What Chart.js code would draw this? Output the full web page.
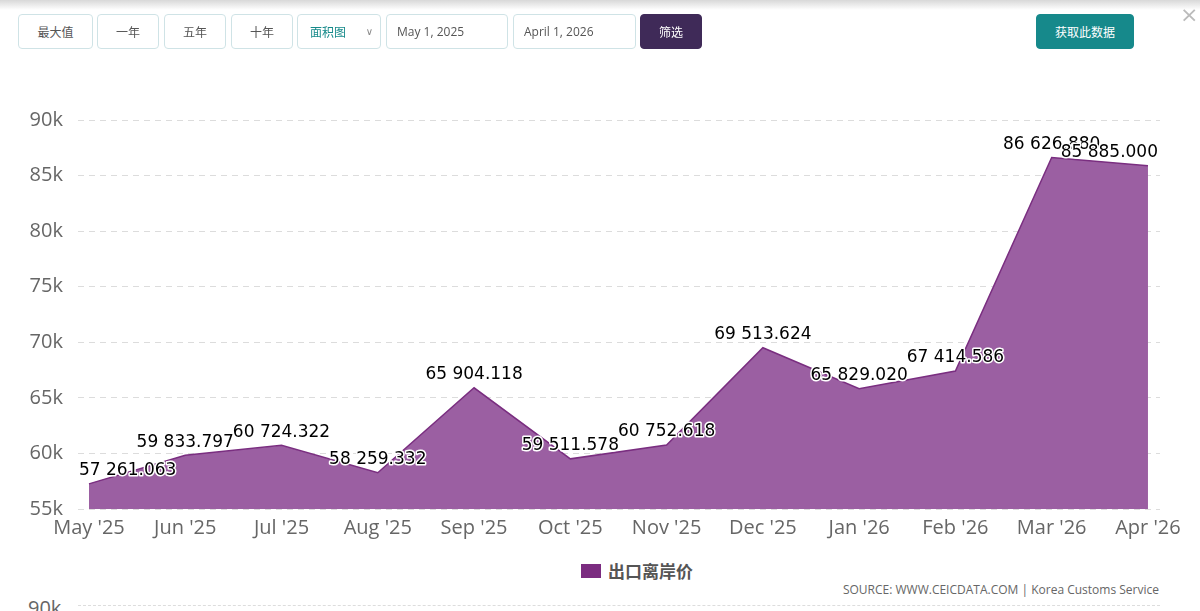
<!DOCTYPE html>
<html><head><meta charset="utf-8">
<script src="https://cdn.jsdelivr.net/npm/chart.js@4/dist/chart.umd.min.js"></script>
<style>
html,body{margin:0;padding:0;background:#fff;width:1200px;height:611px;overflow:hidden;font-family:"Noto Sans CJK SC","Open Sans",sans-serif;}
#top{position:absolute;left:0;top:0;width:1200px;height:10px;background:linear-gradient(#d8d8d8,#fff);}
.btn{position:absolute;top:14px;height:35px;border:1px solid #cfe3e6;border-radius:4px;background:#fff;color:#555;font-size:12px;display:flex;align-items:center;justify-content:center;box-sizing:border-box;}
.dt{justify-content:flex-start;padding-left:10px;font-family:"Open Sans",sans-serif;font-size:12px;color:#555;}
#wrap{position:absolute;left:0;top:0;width:1200px;height:547px;}
#src{position:absolute;right:41px;top:581px;font-family:"Open Sans",sans-serif;font-size:12px;color:#666;}
#b90{position:absolute;left:28px;top:594px;font-family:"Open Sans",sans-serif;font-size:20px;color:#666;}
#bl{position:absolute;left:78px;top:605px;width:1082px;border-top:1px dashed #ddd;}
#leg{position:absolute;left:581px;top:558px;display:flex;align-items:center;font-size:17px;font-weight:bold;color:#555;font-family:"Noto Sans CJK SC";}
#leg i{display:inline-block;width:20px;height:14px;margin-right:7px;}
</style></head><body>
<div id="wrap"><canvas id="c" width="1200" height="547"></canvas></div>
<div id="top"></div>
<div class="btn" style="left:18px;width:75px">最大值</div>
<div class="btn" style="left:97px;width:62px">一年</div>
<div class="btn" style="left:164px;width:62px">五年</div>
<div class="btn" style="left:231px;width:62px">十年</div>
<div class="btn" style="left:297px;width:84px;justify-content:flex-start;padding-left:12px;color:#168a8a">面积图<span style="position:absolute;right:7px;color:#888;font-size:10px;font-family:'DejaVu Sans'">&#8744;</span></div>
<div class="btn dt" style="left:386px;width:122px">May 1, 2025</div>
<div class="btn dt" style="left:513px;width:123px">April 1, 2026</div>
<div class="btn" style="left:640px;width:62px;background:#3f2a58;border-color:#3f2a58;color:#fff">筛选</div>
<div class="btn" style="left:1036px;width:98px;background:#16898b;border-color:#16898b;color:#fff">获取此数据</div>
<div style="position:absolute;left:1180px;top:2px;font-size:22px;color:#bbb;font-family:'DejaVu Sans'">&#215;</div>
<div id="leg"><i id="legsw"></i><span id="legtx"></span></div>
<div id="src">SOURCE: WWW.CEICDATA.COM | Korea Customs Service</div>
<div id="bl"></div>
<div id="b90">90k</div>
<script>
const categories = ["May '25","Jun '25","Jul '25","Aug '25","Sep '25","Oct '25","Nov '25","Dec '25","Jan '26","Feb '26","Mar '26","Apr '26"];
const values = [57261.063,59833.797,60724.322,58259.332,65904.118,59511.578,60752.618,69513.624,65829.020,67414.586,86626.880,85885.000];
const seriesName = "出口离岸价";
const yTicks = [55000,60000,65000,70000,75000,80000,85000,90000];
const seriesColor = '#7b2c80';

document.getElementById('legsw').style.background = seriesColor;
document.getElementById('legtx').textContent = seriesName;

function fmt(v){
  const s = v.toFixed(3); const [i,d] = s.split('.');
  return i.replace(/\B(?=(\d{3})+(?!\d))/g,' ') + '.' + d;
}

const labelPlugin = {
  id:'dl',
  afterDatasetsDraw(chart){
    const ctx = chart.ctx, meta = chart.getDatasetMeta(0), ca = chart.chartArea;
    ctx.save();
    ctx.font = '17px "DejaVu Sans"';
    ctx.textBaseline = 'middle';
    ctx.lineJoin = 'round';
    meta.data.forEach((pt,i)=>{
      const t = fmt(values[i]);
      const w = ctx.measureText(t).width;
      let x = pt.x - w/2;
      if (x < ca.left + 1) x = ca.left + 1;
      if (x + w > ca.right - 2) x = ca.right - 2 - w;
      const y = pt.y - 13;
      ctx.lineWidth = 3; ctx.strokeStyle = '#fff';
      ctx.strokeText(t, x, y);
      ctx.fillStyle = '#000';
      ctx.fillText(t, x, y);
    });
    ctx.restore();
  }
};

new Chart(document.getElementById('c'), {
  type:'line',
  data:{
    datasets:[{
      label: seriesName,
      data: values.map((v,i)=>({x:i,y:v})),
      borderColor:'#7a2e80',
      backgroundColor:'#9b5fa2',
      pointRadius:0,
      borderWidth:1.5,
      fill:'start',
      tension:0
    }]
  },
  options:{
    responsive:false,
    animation:false,
    layout:{padding:{top:120,left:0,right:40,bottom:0}},
    plugins:{
      tooltip:{enabled:false},
      legend:{display:false}
    },
    scales:{
      x:{
        type:'linear',
        min:-0.114, max:11.125,
        grid:{display:false,drawTicks:false},
        border:{display:false},
        afterBuildTicks(s){ s.ticks = categories.map((c,i)=>({value:i})); },
        ticks:{
          autoSkip:false,maxRotation:0,
          color:'#666',
          font:{size:20,family:'"Open Sans"'},
          padding:7,
          callback:(v)=>categories[v]
        }
      },
      y:{
        min:55000,max:90000,
        afterBuildTicks(s){ s.ticks = yTicks.map(v=>({value:v})); },
        afterFit(s){ s.width = 78; },
        grid:{color:'#dcdcdc',lineWidth:1,drawTicks:false},
        border:{display:false,dash:[6,5]},
        ticks:{
          color:'#666',
          font:{size:20,family:'"Open Sans"'},
          padding:15,
          callback:(v)=>(v/1000)+'k'
        }
      }
    }
  },
  plugins:[labelPlugin]
});
</script>
</body></html>
